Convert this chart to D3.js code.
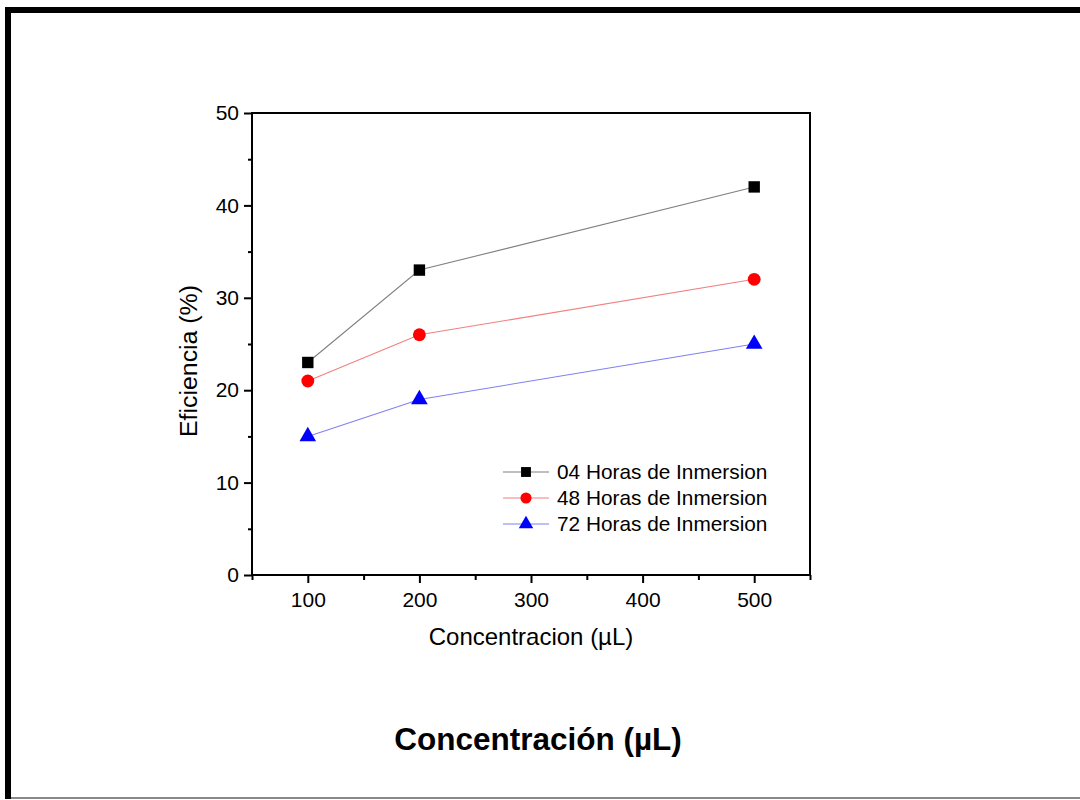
<!DOCTYPE html>
<html><head><meta charset="utf-8">
<script src="https://cdn.jsdelivr.net/npm/d3@7"></script>
<style>body{margin:0;background:#fff}svg{display:block}</style>
</head><body>
<svg id="c" width="1080" height="800"></svg>
<script>
const concentrations = [100, 200, 500];
const seriesNames = ["04 Horas de Inmersion", "48 Horas de Inmersion", "72 Horas de Inmersion"];
const horas04 = [23, 33, 42];
const horas48 = [21, 26, 32];
const horas72 = [15, 19, 25];
const xTicks = [100, 200, 300, 400, 500];
const yTicks = [0, 10, 20, 30, 40, 50];

const svg = d3.select("#c");
const font = "Arial, 'Liberation Sans', sans-serif";

// outer frame
svg.append("rect").attr("x",5).attr("y",7).attr("width",1080).attr("height",6).attr("fill","#000");
svg.append("rect").attr("x",5).attr("y",7).attr("width",6).attr("height",792).attr("fill","#000");
svg.append("rect").attr("x",11).attr("y",797).attr("width",1069).attr("height",2).attr("fill","#888");

const L=252, R=810, T=113, B=575;
const x = d3.scaleLinear().domain([50,550]).range([L,R]);
const y = d3.scaleLinear().domain([0,50]).range([B,T]);

// box
svg.append("rect").attr("x",L).attr("y",T).attr("width",R-L).attr("height",B-T)
  .attr("fill","none").attr("stroke","#000").attr("stroke-width",2);

// axes
const xAx = svg.append("g").attr("transform",`translate(0,${B})`)
  .call(d3.axisBottom(x).tickValues(xTicks).tickSize(8).tickPadding(9).tickFormat(d3.format("d")));
const xMinor = svg.append("g").attr("transform",`translate(0,${B})`)
  .call(d3.axisBottom(x).tickValues([50,150,250,350,450,550]).tickSize(5).tickFormat(""));
const yAx = svg.append("g").attr("transform",`translate(${L},0)`)
  .call(d3.axisLeft(y).tickValues(yTicks).tickSize(8).tickPadding(5).tickFormat(d3.format("d")));
const yMinor = svg.append("g").attr("transform",`translate(${L},0)`)
  .call(d3.axisLeft(y).tickValues([5,15,25,35,45]).tickSize(4).tickFormat(""));
[xAx,xMinor,yAx,yMinor].forEach(g=>{
  g.select(".domain").remove();
  g.attr("font-size",21).attr("font-family",font);
  g.selectAll("line").attr("stroke","#000").attr("stroke-width",2);
  g.selectAll("text").style("font-family",font).style("font-size","21px").attr("fill","#000");
});

// axis titles
svg.append("text").attr("x",531).attr("y",645).attr("text-anchor","middle")
  .attr("font-family",font).attr("font-size",24).text("Concentracion (µL)");
svg.append("text").attr("transform",`translate(197,361) rotate(-90)`).attr("text-anchor","middle")
  .attr("font-family",font).attr("font-size",23).attr("textLength",152).attr("lengthAdjust","spacingAndGlyphs").text("Eficiencia (%)");

svg.append("text").attr("x",538).attr("y",750).attr("text-anchor","middle")
  .attr("font-family",font).attr("font-size",31.5).attr("font-weight","bold").text("Concentración (µL)");

const series = [
  {name:seriesNames[0], vals:horas04, line:"#808080", fill:"#000", sym:d3.symbolSquare, size:130},
  {name:seriesNames[1], vals:horas48, line:"#f08080", fill:"#f00", sym:d3.symbolCircle, size:130},
  {name:seriesNames[2], vals:horas72, line:"#8080f0", fill:"#00f", sym:d3.symbolTriangle, size:120},
];
const line = d3.line().x((d,i)=>x(concentrations[i])).y(d=>y(d));
series.forEach(s=>{
  svg.append("path").datum(s.vals).attr("d",line).attr("fill","none").attr("stroke",s.line).attr("stroke-width",1.1);
  svg.selectAll(null).data(s.vals).enter().append("path")
    .attr("d",d3.symbol().type(s.sym).size(s.size))
    .attr("transform",(d,i)=>`translate(${x(concentrations[i])},${y(d)})`)
    .attr("fill",s.fill);
});

// legend
const lg = svg.append("g");
series.forEach((s,i)=>{
  const yy = 472 + i*26;
  lg.append("line").attr("x1",503).attr("x2",549).attr("y1",yy).attr("y2",yy).attr("stroke",s.line).attr("stroke-width",1.1);
  lg.append("path").attr("d",d3.symbol().type(s.sym).size(s.size*0.75)).attr("transform",`translate(526,${yy})`).attr("fill",s.fill);
  lg.append("text").attr("x",557).attr("y",yy+7).attr("font-family",font).attr("font-size",20.8).text(s.name);
});
</script>
</body></html>
